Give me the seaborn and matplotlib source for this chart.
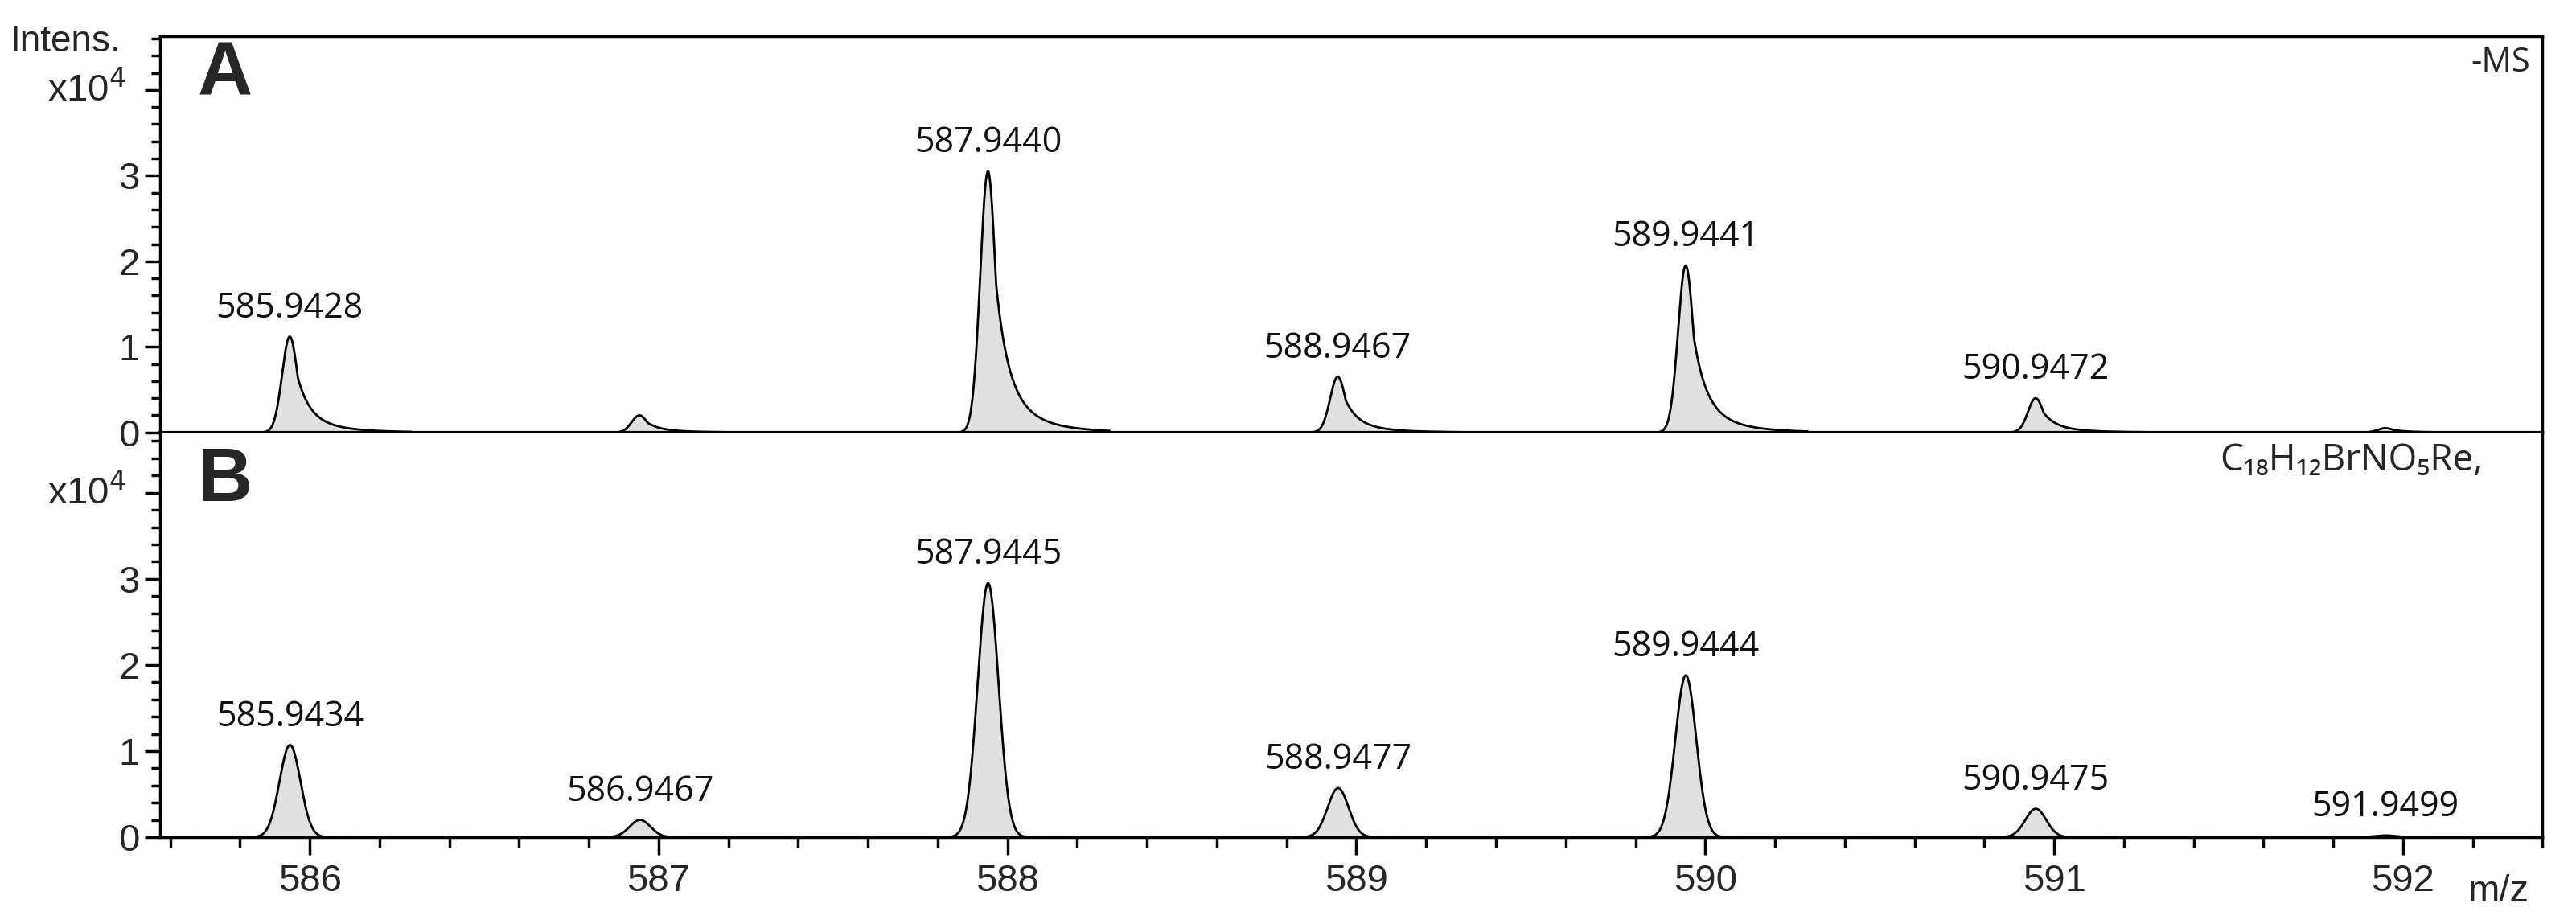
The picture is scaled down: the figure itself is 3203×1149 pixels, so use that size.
import numpy as np
import pandas as pd
import matplotlib
matplotlib.use("Agg")
import matplotlib.pyplot as plt
import seaborn as sns

sns.set_style("ticks")
plt.rcParams['font.family'] = ['Liberation Sans', 'DejaVu Sans']

# peak data (intensity in x10^4)
mz_A = [585.9428, 586.945, 587.9440, 588.9467, 589.9441, 590.9472, 591.95]
int_A = [1.12, 0.20, 3.05, 0.65, 1.95, 0.40, 0.05]
lab_A = ["585.9428", None, "587.9440", "588.9467", "589.9441", "590.9472", None]

mz_B = [585.9434, 586.9467, 587.9445, 588.9477, 589.9444, 590.9475, 591.9499]
int_B = [1.07, 0.20, 2.95, 0.57, 1.88, 0.33, 0.02]
lab_B = ["585.9434", "586.9467", "587.9445", "588.9477", "589.9444", "590.9475", "591.9499"]

x_major = [586, 587, 588, 589, 590, 591, 592]
y_major = [0, 1, 2, 3, 4]
y_labels = ["0", "1", "2", "3", ""]

x = np.linspace(585.55, 592.45, 6000)

def profile_measured(mz, inten):
    y = np.zeros_like(x)
    for m, h in zip(mz, inten):
        d = x - m
        left = np.exp(-0.5 * (d / 0.022) ** 2)
        right = np.where(d < 0, 0, 0.8 * np.exp(-d / 0.035) + 0.2 * np.exp(-d / 0.10))
        core = np.where(d < 0, left, np.maximum(np.exp(-0.5 * (d / 0.022) ** 2), right))
        core[np.abs(d) > 0.35] = 0
        y += h * core
    return y

def profile_sim(mz, inten):
    y = np.zeros_like(x)
    for m, h in zip(mz, inten):
        y += h * np.exp(-0.5 * ((x - m) / 0.03) ** 2)
    return y

dfA = pd.DataFrame({"mz": x, "I": profile_measured(mz_A, int_A)})
dfB = pd.DataFrame({"mz": x, "I": profile_sim(mz_B, int_B)})

fig = plt.figure(figsize=(32.03, 11.49), dpi=100)
axA = fig.add_axes([0.062, 0.532, 0.925, 0.429])
axB = fig.add_axes([0.062, 0.094, 0.925, 0.438])

for ax, df, mz, inten, labs, ymax in [(axA, dfA, mz_A, int_A, lab_A, 4.63),
                                       (axB, dfB, mz_B, int_B, lab_B, 4.70)]:
    ax.fill_between(df["mz"], 0, df["I"], color="#e0e0e0", lw=0)
    sns.lineplot(data=df, x="mz", y="I", ax=ax, color="black", lw=2, estimator=None)
    for m, h, l in zip(mz, inten, labs):
        if l:
            ax.text(m, h + 0.12, l, ha="center", va="bottom", fontsize=31,
                    family=["Open Sans", "DejaVu Sans"], color="#111")
    ax.set_xlim(585.57, 592.40)
    ax.set_ylim(0, ymax)
    ax.set_xlabel("")
    ax.set_ylabel("")
    for s in ax.spines.values():
        s.set_visible(True)
        s.set_linewidth(2.5)
        s.set_color("black")
    ax.text(-0.014, 4.0, "x10$^4$", transform=ax.get_yaxis_transform(), ha="right",
            va="center", fontsize=34)

axA.spines["bottom"].set_linewidth(3)
axB.spines["top"].set_visible(False)

axA.text(0.016, 0.90, "A", transform=axA.transAxes, fontsize=68, fontweight="bold", va="center")
axB.text(0.016, 0.88, "B", transform=axB.transAxes, fontsize=68, fontweight="bold", va="center")
axA.text(0.995, 0.975, "-MS", transform=axA.transAxes, ha="right", va="top", fontsize=30,
         family=["Open Sans", "DejaVu Sans"])
axB.text(0.975, 0.975, "C₁₈H₁₂BrNO₅Re,", transform=axB.transAxes, ha="right", va="top",
         fontsize=33, family=["Open Sans", "DejaVu Sans"])
fig.text(0.004, 0.955, "Intens.", fontsize=33, ha="left", va="center")
fig.text(0.982, 0.035, "m/z", fontsize=34, ha="right", va="center")

# ticks set last
for ax, ymax in ((axA, 4.63), (axB, 4.70)):
    ax.yaxis.set_ticks_position("left")
    ax.set_yticks(y_major, labels=y_labels)
    ax.set_yticks(np.arange(0, ymax, 0.2), minor=True)
    ax.set_xticks(x_major)
    ax.set_xticks(np.arange(585.6, 592.41, 0.2), minor=True)
    ax.yaxis.set_tick_params(which="major", tick1On=True, label1On=True, length=14,
                             width=2.5, color="black", direction="out", labelsize=34, pad=4)
    ax.yaxis.set_tick_params(which="minor", tick1On=True, length=8, width=2.5,
                             color="black", direction="out")
axA.xaxis.set_tick_params(which="both", tick1On=False, label1On=False)
axB.xaxis.set_ticks_position("bottom")
axB.xaxis.set_tick_params(which="major", tick1On=True, label1On=True, length=16, width=2.5,
                          color="black", direction="out", labelsize=34, pad=8)
axB.xaxis.set_tick_params(which="minor", tick1On=True, length=9, width=2.5,
                          color="black", direction="out")

fig.savefig("out.png", dpi=100)
